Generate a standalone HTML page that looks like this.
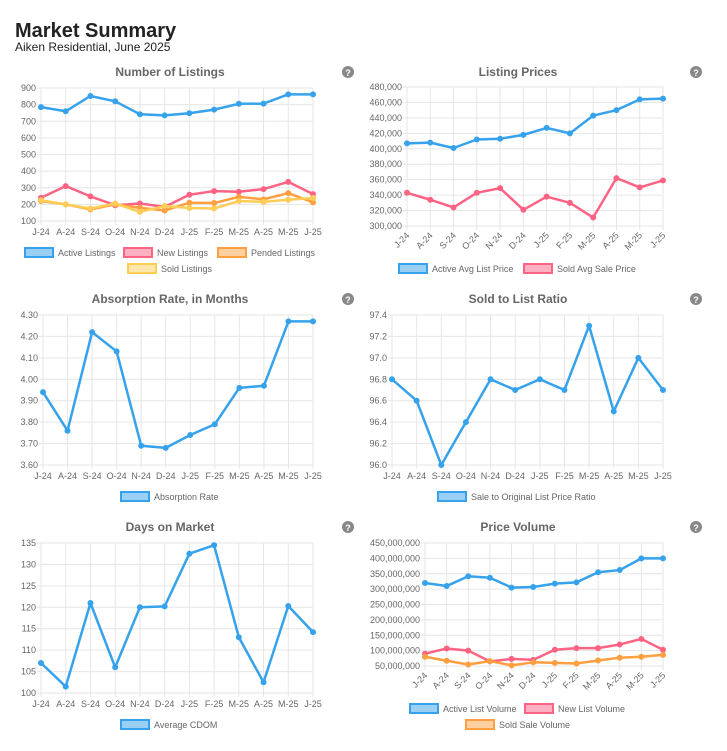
<!DOCTYPE html>
<html><head><meta charset="utf-8"><style>
body{margin:0;background:#fff;width:727px;height:751px;overflow:hidden;font-family:"Liberation Sans",sans-serif}
#t{position:absolute;left:15px;top:20px;font-size:20px;font-weight:bold;color:#222}
#s{position:absolute;left:15px;top:40px;font-size:12px;color:#222}
</style></head><body>
<div id="t">Market Summary</div>
<div id="s">Aiken Residential, June 2025</div>
<svg id="c" width="727" height="751" style="position:absolute;left:0;top:0"></svg>
<script>
const months=["J-24","A-24","S-24","O-24","N-24","D-24","J-25","F-25","M-25","A-25","M-25","J-25"];
const activeListings=[785,760,852,820,742,735,748,770,805,806,862,862];
const newListings=[240,310,248,195,205,185,258,280,276,292,335,262];
const pendedListings=[220,200,170,200,180,163,210,208,245,230,268,212];
const soldListings=[225,200,175,205,155,190,178,175,220,215,228,238];
const activeAvgList=[407000,408000,401000,412000,413000,418000,427000,420000,443000,450000,464000,465000];
const soldAvgSale=[343000,334000,324000,343000,349000,321000,338000,330000,311000,362000,350000,359000];
const absorption=[3.94,3.76,4.22,4.13,3.69,3.68,3.74,3.79,3.96,3.97,4.27,4.27];
const soldToList=[96.8,96.6,96.0,96.4,96.8,96.7,96.8,96.7,97.3,96.5,97.0,96.7];
const cdom=[107,101.5,121,106,120,120.2,132.5,134.5,113,102.5,120.3,114.2];
const activeVolume=[320e6,310e6,342e6,337e6,305e6,307e6,318e6,322e6,355e6,362e6,400e6,400e6];
const newVolume=[90e6,107e6,100e6,65e6,73e6,70e6,103e6,108e6,108e6,120e6,138e6,103e6];
const soldVolume=[80e6,67e6,55e6,66e6,52e6,62e6,60e6,58e6,68e6,77e6,80e6,86e6];
const ticks1=[100,200,300,400,500,600,700,800,900];
const ticks2=[300000,320000,340000,360000,380000,400000,420000,440000,460000,480000];
const ticks3=[3.6,3.7,3.8,3.9,4.0,4.1,4.2,4.3];
const ticks4=[96.0,96.2,96.4,96.6,96.8,97.0,97.2,97.4];
const ticks5=[100,105,110,115,120,125,130,135];
const ticks6=[50e6,100e6,150e6,200e6,250e6,300e6,350e6,400e6,450e6];
const C={b:["#36a2eb","#9ad0f5"],r:["#ff6384","#ffb1c1"],o:["#ff9f40","#ffcf9f"],y:["#ffcd56","#ffe6aa"]};
const svg=document.getElementById('c');const NS="http://www.w3.org/2000/svg";
function el(t,a,p){const e=document.createElementNS(NS,t);for(const k in a)e.setAttribute(k,a[k]);(p||svg).appendChild(e);return e;}
function txt(s,a,p){const e=el('text',Object.assign({'font-family':'Liberation Sans, sans-serif'},a),p);e.textContent=s;return e;}
function chart(o){
 const g=el('g',{});
 
 
 const lo=o.ticks[0],hi=o.ticks[o.ticks.length-1];
 const X=i=>o.x0+(o.x1-o.x0)*i/(months.length-1);
 const Y=v=>o.yb+(o.yt-o.yb)*(v-lo)/(hi-lo);
 const tt=txt(o.title,{x:o.tx,y:o.ty,'font-size':12,'font-weight':'bold',fill:'#666','text-anchor':'middle'},g);
 
 const hc=el('circle',{cx:o.hx,cy:o.ty-4,r:6,fill:'#888'},g);
 
 txt('?',{x:o.hx,y:o.ty,'font-size':9,'font-weight':'bold',fill:'#fff','text-anchor':'middle'},g);
 o.ticks.forEach(t=>{const y=Y(t);
  el('line',{x1:o.x0-4,x2:o.x1,y1:y,y2:y,stroke:'#e6e6e6'},g);
  const l=txt(o.fmt(t),{x:o.x0-5,y:y+3,'font-size':9,fill:'#666','text-anchor':'end'},g);
  });
 months.forEach((m,i)=>{const x=X(i);
  el('line',{x1:x,x2:x,y1:o.yt,y2:o.yb+4,stroke:'#e6e6e6'},g);
  let l;
  if(o.rot) l=txt(m,{x:x+3,y:o.yb+10,'font-size':9,fill:'#666','text-anchor':'end',transform:`rotate(-45 ${x+3} ${o.yb+10})`},g);
  else l=txt(m,{x:x,y:o.yb+14,'font-size':9,fill:'#666','text-anchor':'middle'},g);
  });
 o.series.forEach(s=>{
  const pl=el('polyline',{points:s.d.map((v,i)=>X(i)+','+Y(v)).join(' '),fill:'none',stroke:C[s.c][0],'stroke-width':2.5,'stroke-linejoin':'round'},g);
  
  s.d.forEach((v,i)=>{const p=el('circle',{cx:X(i),cy:Y(v),r:2.5,fill:C[s.c][0],stroke:C[s.c][0],'stroke-width':1},g);
   });
 });
 o.series.forEach(s=>{
  const r=el('rect',{x:s.lx,y:s.ly-5,width:28,height:9,fill:C[s.c][1],stroke:C[s.c][0],'stroke-width':2},g);
  
  txt(s.n,{x:s.lx+33,y:s.ly+3,'font-size':9,fill:'#666'},g);});
}
const k=v=>v.toLocaleString('en-US');
chart({name:'number-of-listings-chart',title:'Number of Listings',tx:170,ty:76,hx:348,x0:41,x1:313,yt:88,yb:221,ticks:ticks1,fmt:String,
 series:[{n:'Active Listings',d:activeListings,c:'b',lx:25,ly:253},{n:'New Listings',d:newListings,c:'r',lx:124,ly:253},{n:'Pended Listings',d:pendedListings,c:'o',lx:218,ly:253},{n:'Sold Listings',d:soldListings,c:'y',lx:128,ly:269}]});
chart({name:'listing-prices-chart',title:'Listing Prices',tx:518,ty:76,hx:696,x0:407,x1:663,yt:87,yb:226,ticks:ticks2,fmt:k,rot:1,
 series:[{n:'Active Avg List Price',d:activeAvgList,c:'b',lx:399,ly:269},{n:'Sold Avg Sale Price',d:soldAvgSale,c:'r',lx:524,ly:269}]});
chart({name:'absorption-rate-chart',title:'Absorption Rate, in Months',tx:170,ty:303,hx:348,x0:43,x1:313,yt:315,yb:465,ticks:ticks3,fmt:v=>v.toFixed(2),
 series:[{n:'Absorption Rate',d:absorption,c:'b',lx:121,ly:497}]});
chart({name:'sold-to-list-ratio-chart',title:'Sold to List Ratio',tx:518,ty:303,hx:696,x0:392,x1:663,yt:315,yb:465,ticks:ticks4,fmt:v=>v.toFixed(1),
 series:[{n:'Sale to Original List Price Ratio',d:soldToList,c:'b',lx:438,ly:497}]});
chart({name:'days-on-market-chart',title:'Days on Market',tx:170,ty:531,hx:348,x0:41,x1:313,yt:543,yb:693,ticks:ticks5,fmt:String,
 series:[{n:'Average CDOM',d:cdom,c:'b',lx:121,ly:725}]});
chart({name:'price-volume-chart',title:'Price Volume',tx:518,ty:531,hx:696,x0:425,x1:663,yt:543,yb:666,ticks:ticks6,fmt:k,rot:1,
 series:[{n:'Active List Volume',d:activeVolume,c:'b',lx:410,ly:709},{n:'New List Volume',d:newVolume,c:'r',lx:525,ly:709},{n:'Sold Sale Volume',d:soldVolume,c:'o',lx:466,ly:725}]});
</script></body></html>
